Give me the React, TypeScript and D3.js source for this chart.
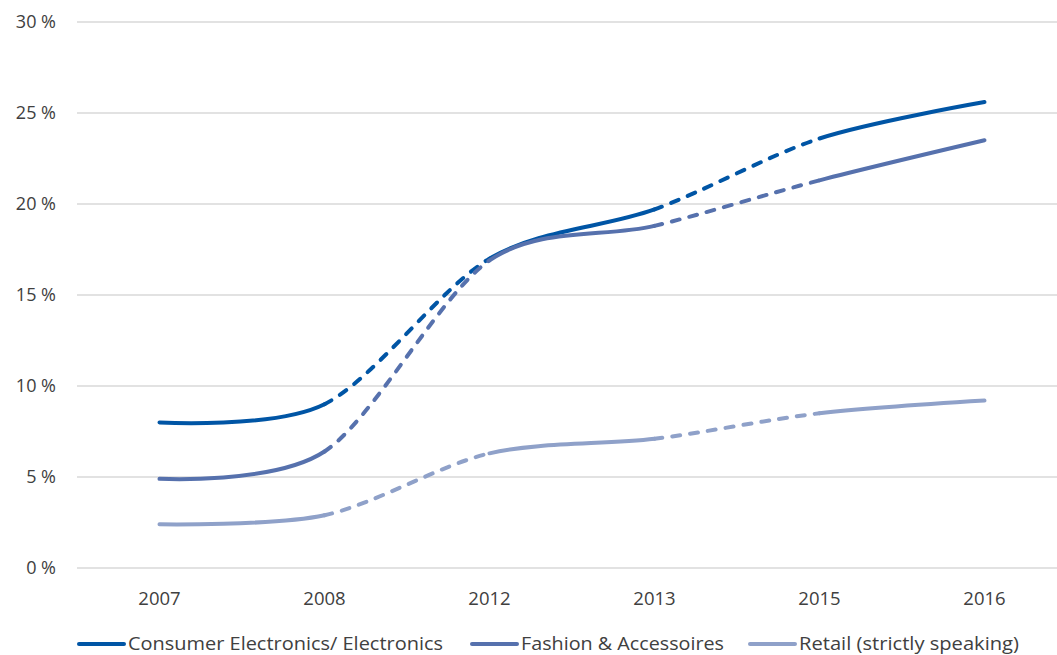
import { useEffect, useRef } from "react";
import * as d3 from "d3";

const years = ["2007", "2008", "2012", "2013", "2015", "2016"];
const electronics = [8.0, 9.0, 17.0, 19.7, 23.6, 25.6];
const fashion = [4.9, 6.4, 16.9, 18.8, 21.3, 23.5];
const retail = [2.4, 2.9, 6.3, 7.1, 8.5, 9.2];
// segment i goes from years[i] to years[i+1]; true = dashed (estimated values)
const dashedSegments = [false, true, false, true, false];
const yTicks = [0, 5, 10, 15, 20, 25, 30];

const seriesList = [
  { name: "Consumer Electronics/ Electronics", values: electronics, color: "#0055a5" },
  { name: "Fashion & Accessoires", values: fashion, color: "#5671ad" },
  { name: "Retail (strictly speaking)", values: retail, color: "#8fa1c9" },
];

// captures bezier pieces emitted by a d3 curve so each segment can be styled on its own
const segmentRecorder = () => {
  const segs: string[] = [];
  let last: [number, number] = [0, 0];
  return {
    segs,
    moveTo(x: number, y: number) { last = [x, y]; },
    lineTo(x: number, y: number) {
      segs.push(`M${last[0]},${last[1]}L${x},${y}`);
      last = [x, y];
    },
    bezierCurveTo(a: number, b: number, c: number, d: number, x: number, y: number) {
      segs.push(`M${last[0]},${last[1]}C${a},${b},${c},${d},${x},${y}`);
      last = [x, y];
    },
    closePath() {},
  };
};

export default function App() {
  const svgRef = useRef<SVGSVGElement>(null);

  useEffect(() => {
    const width = 1057;
    const height = 655;
    const margin = { top: 22, right: -10, bottom: 87, left: 77 };
    const svg = d3.select(svgRef.current).attr("width", width).attr("height", height);
    svg.selectAll("*").remove();

    const x = d3.scaleBand().domain(years).range([margin.left, width - margin.right]);
    const y = d3.scaleLinear().domain([0, 30]).range([height - margin.bottom, margin.top]);
    const cx = (d: string) => x(d)! + x.bandwidth() / 2;

    // grid
    svg.append("g")
      .selectAll("line")
      .data(yTicks)
      .join("line")
      .attr("x1", margin.left)
      .attr("x2", width)
      .attr("y1", (d) => y(d))
      .attr("y2", (d) => y(d))
      .attr("stroke", "#d9d9d9")
      .attr("stroke-width", 1.5);

    const font = "'Open Sans', 'Noto Sans', sans-serif";

    svg.append("g")
      .selectAll("text")
      .data(yTicks)
      .join("text")
      .attr("x", 56)
      .attr("y", (d) => y(d))
      .attr("dy", "0.35em")
      .attr("text-anchor", "end")
      .attr("font-family", font)
      .attr("font-size", 18)
      .attr("fill", "#404040")
      .text((d) => `${d} %`);

    svg.append("g")
      .selectAll("text")
      .data(years)
      .join("text")
      .attr("x", (d) => cx(d))
      .attr("y", 605)
      .attr("text-anchor", "middle")
      .attr("font-family", font)
      .attr("font-size", 18.5)
      .attr("fill", "#404040")
      .text((d) => d);

    // lines
    seriesList.forEach((s) => {
      const rec = segmentRecorder();
      d3.line<number>()
        .x((_, i) => cx(years[i]))
        .y((d) => y(d))
        .curve(d3.curveCardinal.tension(0.1))
        .context(rec as any)(s.values);
      svg.append("g")
        .selectAll("path")
        .data(rec.segs)
        .join("path")
        .attr("d", (d) => d)
        .attr("fill", "none")
        .attr("stroke", s.color)
        .attr("stroke-width", 4)
        .attr("stroke-linecap", "round")
        .attr("stroke-dasharray", (_, i) => (dashedSegments[i] ? "8 10" : null));
    });

    // legend
    const legendX = [77, 470, 748];
    const legendW = [315, 203, 220];
    const lg = svg.append("g");
    seriesList.forEach((s, i) => {
      lg.append("line")
        .attr("x1", legendX[i] + 2)
        .attr("x2", legendX[i] + 47)
        .attr("y1", 644)
        .attr("y2", 644)
        .attr("stroke", s.color)
        .attr("stroke-width", 4)
        .attr("stroke-linecap", "round");
      lg.append("text")
        .attr("x", legendX[i] + 51)
        .attr("y", 650)
        .attr("font-family", font)
        .attr("font-size", 17.5)
        .attr("fill", "#404040")
        .attr("textLength", legendW[i])
        .attr("lengthAdjust", "spacingAndGlyphs")
        .text(s.name);
    });
  }, []);

  return (
    <div style={{ position: "absolute", left: 0, top: 0, background: "#fff" }}>
      <svg ref={svgRef} />
    </div>
  );
}
